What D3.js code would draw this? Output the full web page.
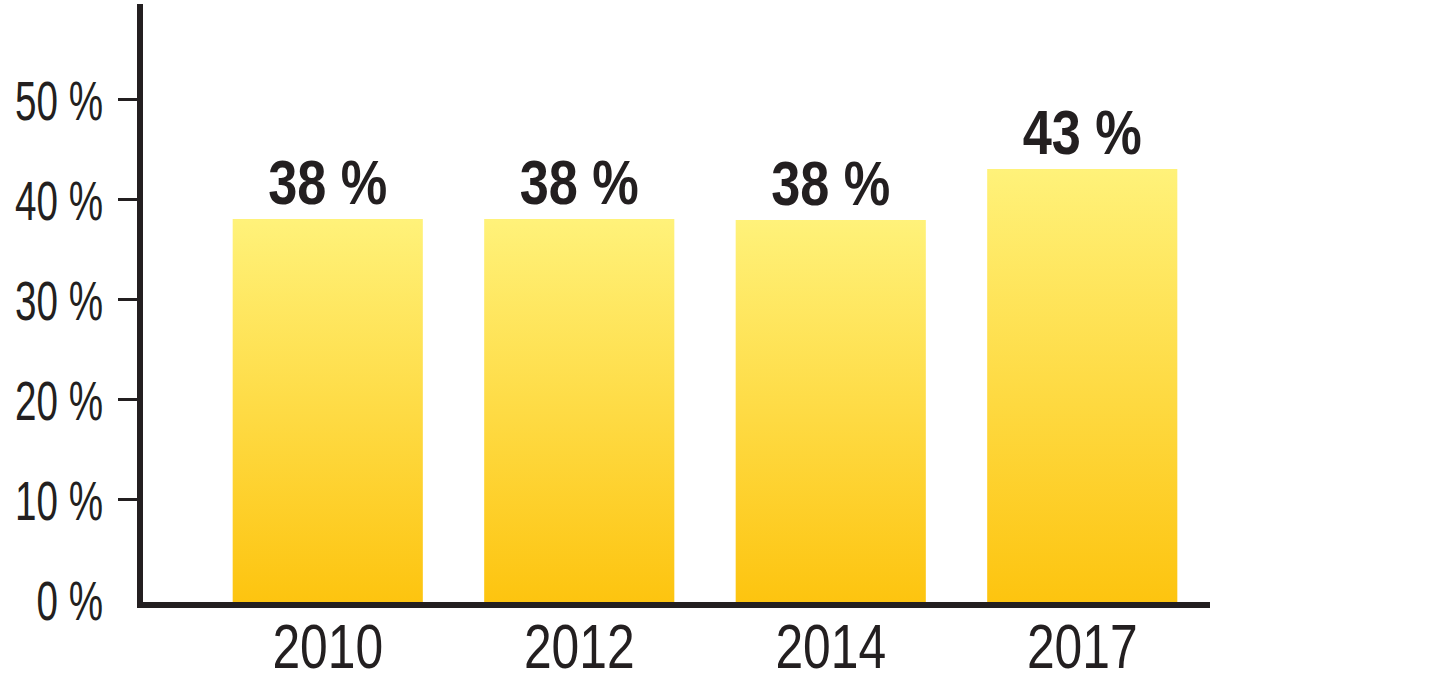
<!DOCTYPE html>
<html>
<head>
<meta charset="utf-8">
<script src="https://cdn.jsdelivr.net/npm/d3@7"></script>
<style>
    body { margin: 0; background: #fff; }
    text { font-family: "Liberation Sans", Arial, sans-serif; fill: #231f20; }
</style>
</head>
<body>
<div id="chart"></div>
<script>

// data
const years = ["2010", "2012", "2014", "2017"];
const shares = [38, 38, 37.9, 43];
const yTicks = [0, 10, 20, 30, 40, 50];

const width = 1442, height = 698;

const svg = d3.select("#chart").append("svg")
    .attr("width", width)
    .attr("height", height);

// vertical gradient for the bars
const grad = svg.append("defs").append("linearGradient")
    .attr("id", "barFill")
    .attr("x1", 0).attr("y1", 0).attr("x2", 0).attr("y2", 1);
grad.append("stop").attr("offset", "0%").attr("stop-color", "#fff27a");
grad.append("stop").attr("offset", "100%").attr("stop-color", "#fdc40f");

const x = d3.scaleBand()
    .domain(years)
    .range([202, 1208])
    .paddingInner(0.244)
    .paddingOuter(0.122);

const y = d3.scaleLinear()
    .domain([0, 50])
    .range([599, 99]);

// no condensed font installed, so squeeze text horizontally around its anchor
function squeeze(sel, s) {
    sel.each(function () {
        const t = d3.select(this);
        const tx = +t.attr("x") || 0;
        const ty = +t.attr("y") || 0;
        t.attr("x", 0).attr("y", 0)
            .attr("transform", "translate(" + tx + "," + ty + ") scale(" + s + ",1)");
    });
}

// bars
svg.selectAll("rect.bar")
    .data(years)
    .enter().append("rect")
    .attr("class", "bar")
    .attr("x", d => x(d))
    .attr("width", x.bandwidth())
    .attr("y", (d, i) => y(shares[i]))
    .attr("height", (d, i) => 603 - y(shares[i]))
    .attr("fill", "url(#barFill)");

// value labels
svg.selectAll("text.value")
    .data(years)
    .enter().append("text")
    .attr("class", "value")
    .attr("x", d => x(d) + x.bandwidth() / 2)
    .attr("y", (d, i) => y(shares[i]) - 15)
    .attr("text-anchor", "middle")
    .attr("font-size", 63)
    .attr("font-weight", "bold")
    .text((d, i) => Math.round(shares[i]) + " %")
    .call(squeeze, 0.83);

// y axis
const yAxis = d3.axisLeft(y)
    .tickValues(yTicks)
    .tickSize(22)
    .tickPadding(15)
    .tickFormat(d => d + " %");

const gy = svg.append("g")
    .attr("transform", "translate(140,0)")
    .call(yAxis);
gy.select(".domain").remove();
gy.selectAll(".tick line")
    .attr("stroke", "#231f20")
    .attr("stroke-width", 3)
    .attr("display", d => d === 0 ? "none" : null);
gy.selectAll(".tick text")
    .attr("font-size", 56)
    .attr("dy", "0.36em")
    .call(squeeze, 0.69);

// x axis labels
const xAxis = d3.axisBottom(x)
    .tickSize(0)
    .tickPadding(0);

const gx = svg.append("g")
    .attr("transform", "translate(0,605)")
    .call(xAxis);
gx.select(".domain").remove();
gx.selectAll(".tick text")
    .attr("font-size", 63)
    .attr("y", 63)
    .attr("dy", 0)
    .call(squeeze, 0.79);

// axis lines
svg.append("line")
    .attr("x1", 140).attr("x2", 140)
    .attr("y1", 4).attr("y2", 608)
    .attr("stroke", "#231f20")
    .attr("stroke-width", 6);
svg.append("line")
    .attr("x1", 137).attr("x2", 1210)
    .attr("y1", 605).attr("y2", 605)
    .attr("stroke", "#231f20")
    .attr("stroke-width", 6);

// d3 axes set their own font on the group; drop it so the css font applies
svg.selectAll("g").attr("font-family", null).attr("font-size", null);

</script>
</body>
</html>
